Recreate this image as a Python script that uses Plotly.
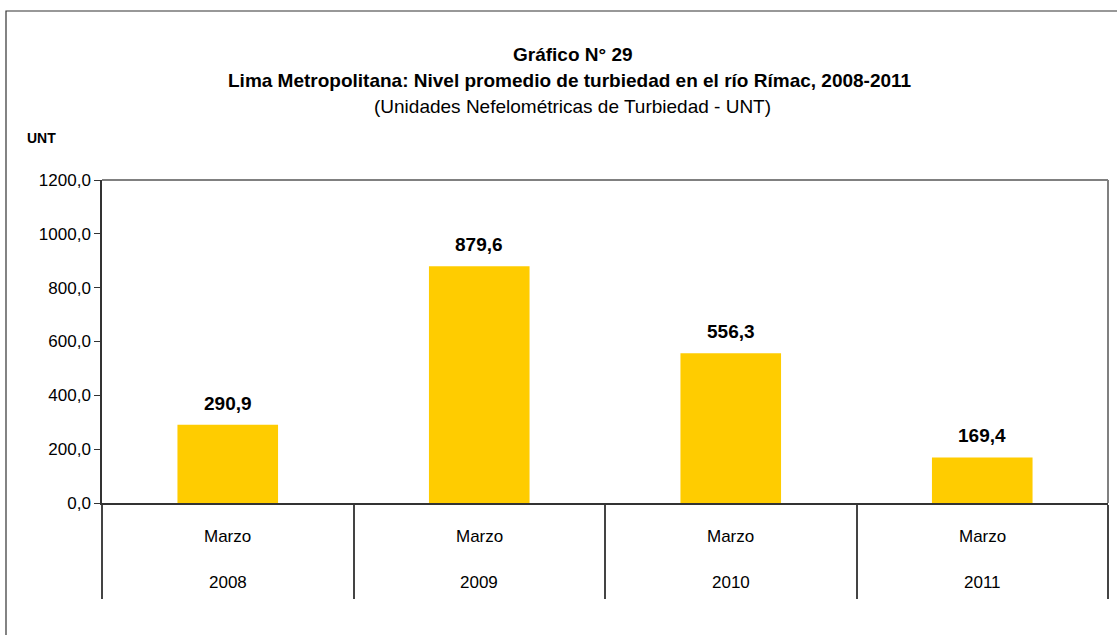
import plotly.graph_objects as go

years = ["2008", "2009", "2010", "2011"]
months = ["Marzo", "Marzo", "Marzo", "Marzo"]
values = [290.9, 879.6, 556.3, 169.4]
labels = ["290,9", "879,6", "556,3", "169,4"]
y_ticks = [0, 200, 400, 600, 800, 1000, 1200]

FONT = "Liberation Sans, Arial, sans-serif"

W, H = 1117, 635
L, R, T, B = 102, 9, 180, 132
pw, ph = W - L - R, H - T - B


def py(ypix):
    return (H - B - ypix) / ph


def px(xpix):
    return (xpix - L) / pw


fig = go.Figure(go.Bar(
    x=years,
    y=values,
    marker=dict(color="#FFCC00", line=dict(width=0)),
    width=0.4,
    hoverinfo="x+y",
))

# value labels above bars (category index positions)
for i, (v, lab) in enumerate(zip(values, labels)):
    fig.add_annotation(x=i, y=v, xref="x", yref="y", text="<b>%s</b>" % lab,
                       showarrow=False, yanchor="bottom", xanchor="center", yshift=9,
                       font=dict(family=FONT, size=19, color="#000000"))

# two-row category labels
for i, (yr, m) in enumerate(zip(years, months)):
    fig.add_annotation(x=i, y=py(536), xref="x", yref="paper", text=m, showarrow=False,
                       xanchor="center", yanchor="middle",
                       font=dict(family=FONT, size=17, color="#000000"))
    fig.add_annotation(x=i, y=py(582), xref="x", yref="paper", text=yr, showarrow=False,
                       xanchor="center", yanchor="middle",
                       font=dict(family=FONT, size=17, color="#000000"))

fig.update_layout(
    width=W, height=H,
    margin=dict(l=L, r=R, t=T, b=B),
    paper_bgcolor="white", plot_bgcolor="white",
    separators=",.",
    font=dict(family=FONT, size=16, color="#000000"),
    showlegend=False,
    bargap=0.6,
)
fig.update_yaxes(
    range=[0, 1200], tickvals=y_ticks, tickformat=".1f",
    showgrid=False, showline=True, linecolor="#333333", linewidth=1.5,
    ticks="outside", ticklen=6, tickcolor="#333333", tickwidth=1.2,
    tickfont=dict(family=FONT, size=17),
    zeroline=False,
)
fig.update_xaxes(
    type="category", range=[-0.5, len(years) - 0.5],
    showgrid=False, showline=True, linecolor="#333333", linewidth=2,
    ticks="outside", tickson="boundaries", ticklen=94, tickcolor="#444444", tickwidth=1.5,
    showticklabels=False,
)

# plot-area top/right border (gray)
fig.add_shape(type="line", xref="paper", yref="paper", x0=0, x1=1, y0=1, y1=1,
              line=dict(color="#808080", width=2))
fig.add_shape(type="line", xref="paper", yref="paper", x0=1, x1=1, y0=0, y1=1,
              line=dict(color="#808080", width=2))

# outer frame
fig.add_shape(type="rect", xref="paper", yref="paper",
              x0=px(6), x1=px(W + 5), y0=py(H + 5), y1=py(11),
              line=dict(color="#333333", width=1.2), layer="below")

fig.add_annotation(text="<b>Gráfico N° 29</b>", xref="paper", yref="paper",
                   x=px(573), y=py(55), xanchor="center", yanchor="middle",
                   showarrow=False, font=dict(size=19, family=FONT))
fig.add_annotation(text="<b>Lima Metropolitana: Nivel promedio de turbiedad en el río Rímac, 2008-2011</b>",
                   xref="paper", yref="paper", x=px(570), y=py(80), xanchor="center", yanchor="middle",
                   showarrow=False, font=dict(size=19, family=FONT))
fig.add_annotation(text="(Unidades Nefelométricas de Turbiedad - UNT)", xref="paper", yref="paper",
                   x=px(572), y=py(106), xanchor="center", yanchor="middle",
                   showarrow=False, font=dict(size=19, family=FONT))
fig.add_annotation(text="<b>UNT</b>", xref="paper", yref="paper", x=px(25), y=py(138),
                   xanchor="left", yanchor="middle", showarrow=False,
                   font=dict(size=14, family=FONT))

fig.write_html("out.html", config={"displayModeBar": False},
               post_script="document.body.style.margin='0';")
